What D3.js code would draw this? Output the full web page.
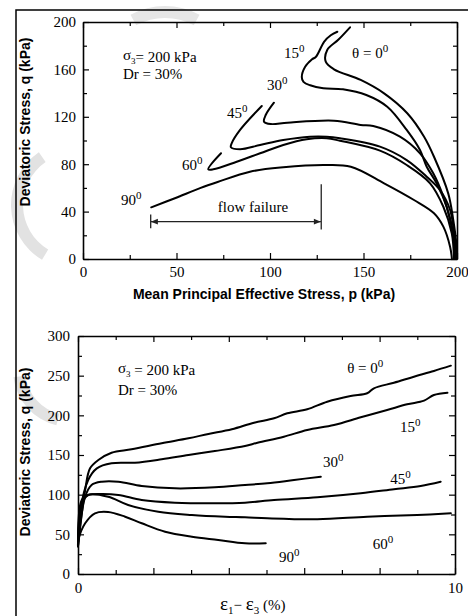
<!DOCTYPE html>
<html>
<head>
<meta charset="utf-8">
<script src="https://cdn.jsdelivr.net/npm/d3@7"></script>
<style>
body {margin:0; background:#fff;}
.tick text {font-family:"Liberation Serif", serif; font-size:15px; fill:#000;}
.curve {fill:none; stroke:#000; stroke-width:2; stroke-linejoin:round; stroke-linecap:round;}
.ann {font-family:"Liberation Serif", serif; font-size:15px; fill:#000;}
.title {font-family:"Liberation Sans", Arial, sans-serif; font-size:14px; font-weight:bold; fill:#000;}
</style>
</head>
<body>
<div id="vis"></div>
<script>
const FRAME_WIDTH = 468;
const FRAME_HEIGHT = 616;

// tick values
const P_TICKS = [0, 50, 100, 150, 200];
const P_MINOR = [25, 75, 125, 175];
const Q1_TICKS = [0, 40, 80, 120, 160, 200];
const Q1_MINOR = [20, 60, 100, 140, 180];
const E_TICKS = [0, 1, 2, 3, 4, 5, 6, 7, 8, 9, 10];
const E_LABELS = [0, 10];
const Q2_TICKS = [0, 50, 100, 150, 200, 250, 300];
const Q2_MINOR = [25, 75, 125, 175, 225, 275];

// stress paths (p, q) in kPa
const PATH_0 = [[142.8,195.5],[136.5,185],[130.6,176.4],[129.8,166.5],[134.2,160.1],[148.5,151.1],[161.0,139.8],
  [173.4,123.0],[182.4,103.2],[187.7,86.3],[195.3,55.4],[198.0,32.9],[199.8,10.4],[200,0]];
const PATH_15 = [[136.0,191.8],[132.5,188.8],[129,183.5],[124.6,170.7],[122.5,168.5],[118.8,162.2],[117.0,153.6],
  [117.9,149.5],[121.5,146.6],[128.5,144.1],[139.0,143.2],[151.5,138.4],[162.7,128.5],[173.1,108.9],
  [180.2,92.0],[183.8,77.9],[189.1,63.9],[194.5,44.1],[198.0,21.7],[198.9,0]];
const PATH_30 = [[102.1,131.9],[97.7,121.5],[96.8,115.9],[100.4,113.9],[109.3,115.0],[134.2,116.7],[148.5,113.1],
  [155.2,112.2],[169.5,103.2],[180.2,89.2],[187.3,72.3],[192.7,52.6],[196.3,32.9],[198.9,10.4],[199.2,0]];
const PATH_45 = [[95.6,129.1],[84.0,108.9],[79.5,97.6],[79.1,94.3],[84.0,92.6],[94.7,96.2],[107.1,100.4],
  [121.4,103.2],[130.3,103.2],[137.4,101.9],[158.8,94.8],[173.1,83.5],[183.8,69.5],[190.9,58.2],
  [196.3,41.4],[198.9,16.0],[199.5,0]];
const PATH_60 = [[73.8,89.2],[67.0,75.7],[69.7,75.7],[82.2,82.1],[94.7,89.2],[107.1,96.2],[119.6,101.0],
  [130.3,101.9],[137.4,99.8],[158.8,91.4],[173.1,79.3],[185.6,63.9],[192.7,44.1],[197.2,21.7],[198.4,0]];
const PATH_90 = [[36.5,43.6],[49.5,51.5],[62.6,59.8],[72,65],[89.3,73.7],[107.1,77.4],
  [128.9,79.3],[143.2,77.9],[161.0,63.9],[177.0,49.8],[187.7,38.6],[192.7,27.3],[196.3,10.4],[197.3,0]];

// stress-strain curves (strain %, q kPa)
const CURVE_0 = [[0,35],[0.19,105.9],[0.32,133.2],[0.54,143.7],[0.89,152.9],[1.42,157.2],[2.22,164.8],[2.93,171.1],
  [3.46,176.5],[4.08,182.4],[4.67,190.7],[5.20,196.3],[5.55,202.6],[6.08,207.6],[6.61,217.2],[7.23,224.4],
  [7.67,227.8],[7.85,234.1],[8.38,241.1],[8.91,248.7],[9.44,255.9],[9.89,262.6]];
const CURVE_15 = [[0,35],[0.05,76.5],[0.27,118.5],[0.50,133.2],[0.89,139.5],[1.51,140.3],[2.22,144.6],[2.93,150.0],
  [3.63,155.0],[4.43,161.3],[4.76,165.5],[5.46,173.1],[6.08,181.5],[6.79,187.8],[7.50,197.5],[8.20,206.7],
  [8.73,213.9],[9.18,218.5],[9.44,225.6],[9.80,228.5]];
const CURVE_30 = [[0,35],[0.19,97.4],[0.36,112.2],[0.63,116.3],[1.07,116.3],[1.69,110.9],[2.57,108.0],[3.63,109.3],
  [4.43,112.2],[5.02,114.3],[5.73,118.5],[6.44,122.7]];
const CURVE_45 = [[0,35],[0.10,93.3],[0.27,99.6],[0.63,100.8],[1.07,99.6],[1.69,93.3],[2.57,89.9],[3.63,89.1],
  [4.43,89.9],[5.20,93.3],[6.35,96.7],[7.50,101.7],[8.38,106.8],[9.09,110.9],[9.62,116.3]];
const CURVE_60 = [[0,35],[0.12,90],[0.27,99.6],[0.80,97.4],[1.33,87.0],[2.13,78.5],[3.02,74.4],[3.90,72.2],
  [4.43,71.5],[5.02,70.2],[6.35,69.0],[7.67,72.2],[9.00,74.4],[9.89,76.5]];
const CURVE_90 = [[0,35],[0.01,42.9],[0.19,63.9],[0.45,76.5],[0.80,78.2],[1.25,72.2],[1.69,63.9],[2.31,53.3],
  [3.02,47.0],[3.72,42.9],[4.43,38.7],[4.98,38.7]];

const SVG = d3.select("#vis")
  .append("svg")
    .attr("width", FRAME_WIDTH)
    .attr("height", FRAME_HEIGHT);

// faint watermark rings
SVG.append("path")
  .attr("d", d3.arc()({innerRadius:52, outerRadius:64, startAngle:-2.6, endAngle:-0.6}))
  .attr("transform", "translate(75,205)")
  .attr("fill", "#e2e2e2");
SVG.append("path")
  .attr("d", d3.arc()({innerRadius:45, outerRadius:57, startAngle:-2.9, endAngle:-1.7}))
  .attr("transform", "translate(70,370)")
  .attr("fill", "#e2e2e2");
SVG.append("path")
  .attr("d", d3.arc()({innerRadius:60, outerRadius:72, startAngle:-0.5, endAngle:0.5}))
  .attr("transform", "translate(165,78)")
  .attr("fill", "#e6e6e6");

// outer figure frame
SVG.append("path")
  .attr("d", "M16,616 L16,10 L468,10")
  .attr("fill", "none")
  .attr("stroke", "#000")
  .attr("stroke-width", 1.5);

//draws box axes with inward ticks
function drawAxes(xs, ys, xMajor, xMinor, xFmt, yMajor, yMinor, xPad, yPad) {
  const x0 = xs.range()[0], x1 = xs.range()[1];
  const y0 = ys.range()[0], y1 = ys.range()[1];
  const axes = [
    [d3.axisBottom(xs), "translate(0," + y0 + ")", xMajor, xMinor, xFmt, xPad],
    [d3.axisTop(xs), "translate(0," + y1 + ")", xMajor, xMinor, () => "", 0],
    [d3.axisLeft(ys), "translate(" + x0 + ",0)", yMajor, yMinor, null, yPad],
    [d3.axisRight(ys), "translate(" + x1 + ",0)", yMajor, yMinor, () => "", 0]
  ];
  axes.forEach(a => {
    const g = SVG.append("g").attr("transform", a[1]);
    g.call(a[0].tickValues(a[2]).tickSize(-6).tickSizeOuter(0).tickPadding(a[5]).tickFormat(a[4]));
    g.append("g").call(a[0].tickValues(a[3]).tickSize(-4).tickFormat(() => ""))
      .select(".domain").remove();
    g.attr("font-size", null).attr("font-family", null);
    g.selectAll("path.domain").attr("stroke-width", 1.6);
    g.selectAll(".tick line").attr("stroke-width", 1.2);
  });
}

// superscripted angle label
function angleLabel(x, y, num, prefix) {
  const t = SVG.append("text").attr("class", "ann").attr("x", x).attr("y", y);
  t.append("tspan").text(prefix + num);
  t.append("tspan").attr("dy", -6).attr("font-size", "11px").text("0");
}

// sigma_3 and Dr note
function stateLabel(x, y, gap, lineGap) {
  const t = SVG.append("text").attr("class", "ann").attr("x", x).attr("y", y);
  t.append("tspan").attr("dy", -2).text("σ");
  t.append("tspan").attr("dy", 4).attr("font-size", "9px").text("3");
  t.append("tspan").attr("dy", -2).text(gap + "= 200 kPa");
  SVG.append("text").attr("class", "ann").attr("x", x).attr("y", y + lineGap).text("Dr = 30%");
}

/*
 TOP: stress paths
*/
const X_TOP = d3.scaleLinear().domain([0, 200]).range([83, 457]);
const Y_TOP = d3.scaleLinear().domain([0, 200]).range([259, 22]);

drawAxes(X_TOP, Y_TOP, P_TICKS, P_MINOR, d3.format("d"), Q1_TICKS, Q1_MINOR, 7, 7);

const LINE_TOP = d3.line()
  .x(d => X_TOP(d[0]))
  .y(d => Y_TOP(d[1]))
  .curve(d3.curveCatmullRom.alpha(0.5));

[PATH_0, PATH_15, PATH_30, PATH_45, PATH_60, PATH_90].forEach(path => {
  SVG.append("path").attr("class", "curve").attr("d", LINE_TOP(path));
});

angleLabel(X_TOP(143.9), Y_TOP(169.6), "0", "θ = ");
angleLabel(X_TOP(107.5), Y_TOP(169.6), "15", "");
angleLabel(X_TOP(98.4), Y_TOP(142.6), "30", "");
angleLabel(X_TOP(77), Y_TOP(119), "45", "");
angleLabel(X_TOP(52.9), Y_TOP(75.1), "60", "");
angleLabel(X_TOP(20.3), Y_TOP(45.6), "90", "");
stateLabel(X_TOP(21.4), Y_TOP(166), "", 16.5);

// flow failure arrow
const defs = SVG.append("defs");
["start", "end"].forEach(k => {
  defs.append("marker")
    .attr("id", "arrow-" + k)
    .attr("viewBox", "0 0 10 10")
    .attr("refX", k == "end" ? 10 : 0).attr("refY", 5)
    .attr("markerWidth", 9).attr("markerHeight", 7)
    .attr("markerUnits", "userSpaceOnUse")
    .attr("orient", "auto")
    .append("path")
      .attr("d", k == "end" ? "M0,1 L10,5 L0,9 Z" : "M10,1 L0,5 L10,9 Z")
      .attr("fill", "#222");
});
SVG.append("line")
  .attr("x1", X_TOP(36.3)).attr("x2", X_TOP(127.2))
  .attr("y1", Y_TOP(31.5)).attr("y2", Y_TOP(31.5))
  .attr("stroke", "#222").attr("stroke-width", 1.2)
  .attr("marker-start", "url(#arrow-start)")
  .attr("marker-end", "url(#arrow-end)");
SVG.append("line")
  .attr("x1", X_TOP(36.2)).attr("x2", X_TOP(36.2))
  .attr("y1", Y_TOP(37.5)).attr("y2", Y_TOP(26))
  .attr("stroke", "#222").attr("stroke-width", 1.3);
SVG.append("line")
  .attr("x1", X_TOP(127.4)).attr("x2", X_TOP(127.4))
  .attr("y1", Y_TOP(63)).attr("y2", Y_TOP(25))
  .attr("stroke", "#222").attr("stroke-width", 1.3);
SVG.append("text").attr("class", "ann")
  .attr("x", 253).attr("y", 212).attr("text-anchor", "middle")
  .attr("font-size", "16px")
  .text("flow failure");

SVG.append("text").attr("class", "title")
  .attr("x", 264).attr("y", 299).attr("text-anchor", "middle")
  .text("Mean Principal Effective Stress, p (kPa)");
SVG.append("text").attr("class", "title")
  .attr("transform", "translate(30,122) rotate(-90)")
  .attr("text-anchor", "middle")
  .text("Deviatoric Stress, q (kPa)");

/*
 BOTTOM: stress-strain
*/
const X_BOT = d3.scaleLinear().domain([0, 10]).range([78, 455]);
const Y_BOT = d3.scaleLinear().domain([0, 300]).range([574, 336]);

drawAxes(X_BOT, Y_BOT, E_TICKS.filter(d => d % 2 == 0), E_TICKS.filter(d => d % 2 == 1),
  d => E_LABELS.includes(d) ? d : "", Q2_TICKS, Q2_MINOR, 8, 8);

const LINE_BOT = d3.line()
  .x(d => X_BOT(d[0]))
  .y(d => Y_BOT(d[1]))
  .curve(d3.curveCatmullRom.alpha(0.5));

[CURVE_0, CURVE_15, CURVE_30, CURVE_45, CURVE_60, CURVE_90].forEach(c => {
  SVG.append("path").attr("class", "curve").attr("d", LINE_BOT(c));
});

angleLabel(X_BOT(7.14), Y_BOT(253.4), "0", "θ = ");
angleLabel(X_BOT(8.54), Y_BOT(179.4), "15", "");
angleLabel(X_BOT(6.5), Y_BOT(135.3), "30", "");
angleLabel(X_BOT(8.28), Y_BOT(113.4), "45", "");
angleLabel(X_BOT(7.82), Y_BOT(31.5), "60", "");
angleLabel(X_BOT(5.33), Y_BOT(15.5), "90", "");
stateLabel(X_BOT(1.06), Y_BOT(250.9), " ", 20);

const XT = SVG.append("text").attr("class", "ann").attr("x", 220).attr("y", 610);
XT.append("tspan").attr("font-size", "19px").text("ε");
XT.append("tspan").attr("dy", 4).attr("font-size", "11px").text("1");
XT.append("tspan").attr("dy", -4).attr("font-size", "15px").text("−  ");
XT.append("tspan").attr("font-size", "19px").text("ε");
XT.append("tspan").attr("dy", 4).attr("font-size", "11px").text("3");
XT.append("tspan").attr("dy", -4).attr("font-size", "15px").text(" (%)");

SVG.append("text").attr("class", "title")
  .attr("transform", "translate(30,452) rotate(-90)")
  .attr("text-anchor", "middle")
  .text("Deviatoric Stress, q (kPa)");
</script>
</body>
</html>
